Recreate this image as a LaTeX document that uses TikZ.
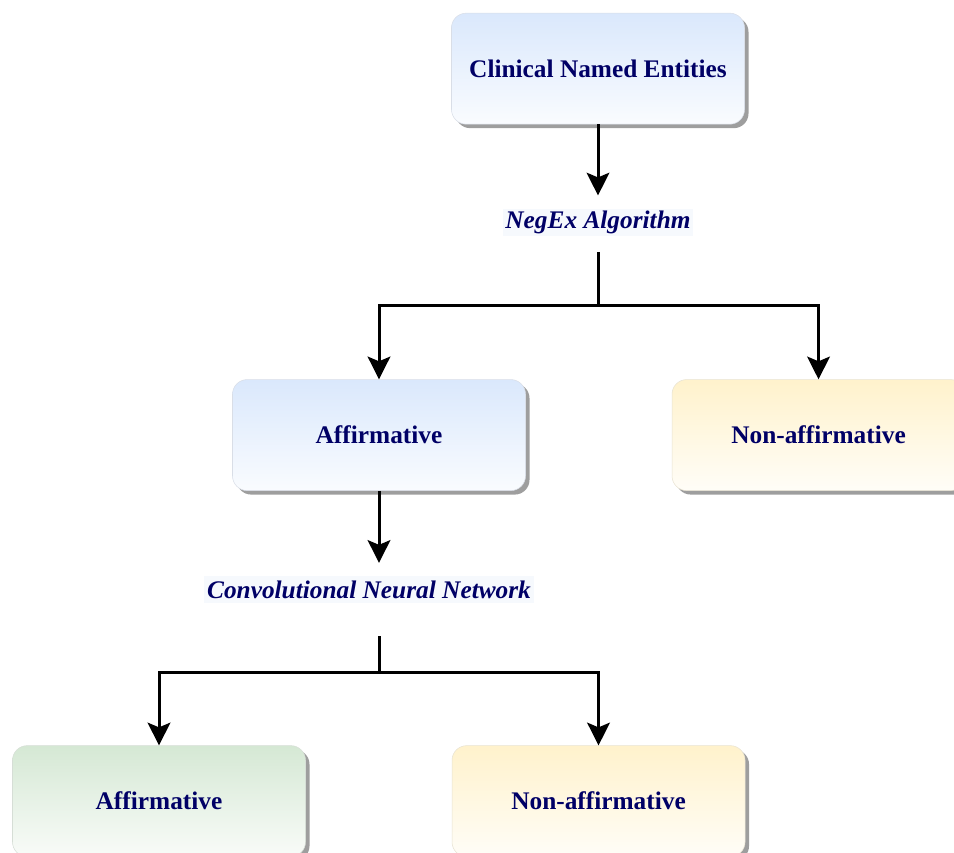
\documentclass[tikz,border=0pt]{standalone}
\usepackage{fontspec}
\setmainfont{Liberation Serif}
\usepackage{tikz}
\usetikzlibrary{arrows.meta,positioning,calc,shadows}
\definecolor{navy}{RGB}{0, 0, 102}
\definecolor{blueish}{RGB}{218, 232, 252}
\definecolor{sand}{RGB}{255, 242, 204}
\definecolor{sage}{RGB}{213, 232, 212}
\definecolor{labelbg}{RGB}{246, 249, 253}

\begin{document}
\begin{tikzpicture}[
    entity/.style={rectangle, rounded corners=11pt, draw=#1!70!gray!60, line width=0.4pt,
                   top color=#1, bottom color=#1!15!white,
                   minimum width=219.75pt, minimum height=83.25pt, align=center,
                   text=navy, font=\fontsize{19pt}{23pt}\selectfont\bfseries,
                   drop shadow={shadow xshift=3pt, shadow yshift=-3pt, fill=black!38, opacity=1}},
    entity/.default=blueish,
    method/.style={fill=labelbg, inner xsep=2pt, inner ysep=0pt, minimum height=20.25pt,
                   text=navy, font=\fontsize{19pt}{23pt}\selectfont\bfseries\itshape},
    line/.style={line width=2.25pt, black},
    arrow/.style={line, -{Stealth[length=17pt, width=17pt, inset=3.5pt]}}
]
\useasboundingbox (0,0) rectangle (715.5pt,-639.75pt);

% Top: input entities
\node[entity=blueish] (cne) at (448.5pt,-51.5pt) {Clinical Named Entities};
\node[method, below=63pt of cne] (negex) {NegEx Algorithm};

% Row 2: NegEx output
\node[entity=blueish, below=107.5pt of negex, xshift=-164.25pt] (aff1) {Affirmative};
\node[entity=sand, right=109.5pt of aff1] (non1) {Non-affirmative};
\node[method, below=63.75pt of aff1, xshift=-7.5pt] (cnn) {Convolutional Neural Network};

% Row 3: CNN output
\node[entity=sage, below=106.5pt of cnn, xshift=-157.5pt] (aff2) {Affirmative};
\node[entity=sand, right=109.5pt of aff2] (non2) {Non-affirmative};

% Forks
\coordinate[below=52.5pt of negex] (fork1);
\coordinate (fork2) at ($(aff1 |- cnn.south)+(0,-51.75pt)$);

% Arrows
\draw[arrow, shorten >=9.75pt] (cne) -- (negex);
\draw[line, shorten <=12pt] (negex) -- (fork1);
\draw[arrow] (fork1) -| (aff1);
\draw[arrow] (fork1) -| (non1);

\draw[arrow, shorten >=9.75pt] (aff1) -- (aff1 |- cnn.north);
\draw[line, shorten <=24.75pt] (aff1 |- cnn.south) -- (fork2);
\draw[arrow] (fork2) -| (aff2);
\draw[arrow] (fork2) -| (non2);
\end{tikzpicture}
\end{document}
